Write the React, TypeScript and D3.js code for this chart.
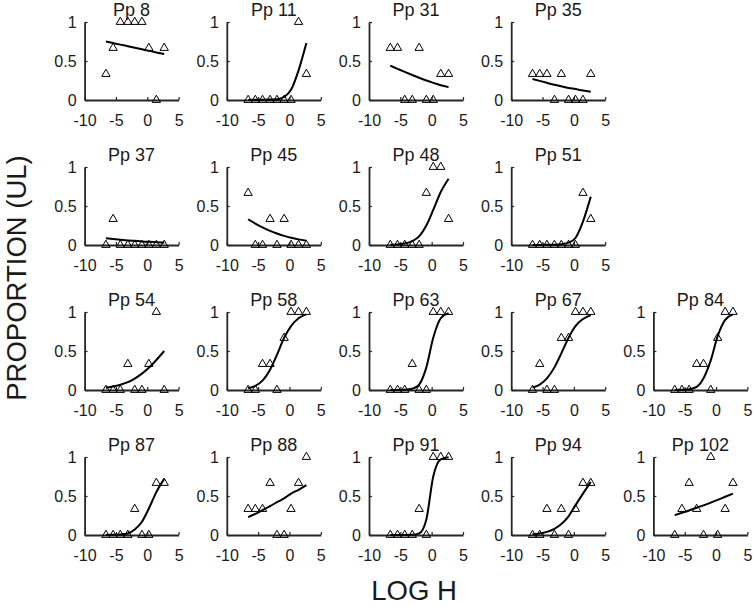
import React, { useEffect, useRef } from 'react';
import * as d3 from 'd3';

// participants, in the order the panels are laid out (row by row)
const panelRows: number[][] = [
  [8, 11, 31, 35],
  [37, 45, 48, 51],
  [54, 58, 63, 67, 84],
  [87, 88, 91, 94, 102],
];

// the nine log H levels every participant was tested at
const logH = [-6.6, -5.45, -4.3, -3.1, -2.0, -0.85, 0.25, 1.45, 2.7];

// observed proportion of UL responses at each level
const propUL: Record<number, number[]> = {
  8: [0.333, 0.667, 1, 1, 1, 1, 0.667, 0, 0.667],
  11: [0, 0, 0, 0, 0, 0, 0, 1, 0.333],
  31: [0.667, 0.667, 0, 0, 0.667, 0, 0, 0.333, 0.333],
  35: [0.333, 0.333, 0.333, 0, 0.333, 0, 0, 0, 0.333],
  37: [0, 0.333, 0, 0, 0, 0, 0, 0, 0],
  45: [0.667, 0, 0, 0.333, 0, 0.333, 0, 0, 0],
  48: [0, 0, 0, 0, 0, 0.667, 1, 1, 0.333],
  51: [0, 0, 0, 0, 0, 0, 0, 0.667, 0.333],
  54: [0, 0, 0, 0.333, 0, 0, 0.333, 1, 0],
  58: [0, 0, 0.333, 0.333, 0, 0.667, 1, 1, 1],
  63: [0, 0, 0, 0.333, 0, 0, 1, 1, 1],
  67: [0, 0.333, 0, 0, 0.667, 0.667, 1, 1, 1],
  84: [0, 0, 0, 0.333, 0.333, 0, 0.667, 1, 1],
  87: [0, 0, 0, 0, 0.333, 0, 0, 0.667, 0.667],
  88: [0.333, 0.333, 0.333, 0.667, 0, 0, 0.333, 0.667, 1],
  91: [0, 0, 0, 0, 0.333, 0, 1, 1, 1],
  94: [0, 0, 0.333, 0, 0.333, 0, 0.333, 0.667, 0.667],
  102: [0, 0.333, 0.667, 0.333, 0, 1, 0, 0.333, 0.667],
};

// fitted curve at the same levels
const fitUL: Record<number, number[]> = {
  8: [0.75, 0.73, 0.71, 0.69, 0.67, 0.65, 0.63, 0.61, 0.59],
  11: [0.001, 0.002, 0.003, 0.005, 0.01, 0.04, 0.13, 0.38, 0.73],
  31: [0.44, 0.4, 0.36, 0.32, 0.285, 0.25, 0.22, 0.19, 0.165],
  35: [0.27, 0.245, 0.22, 0.195, 0.175, 0.155, 0.14, 0.122, 0.107],
  37: [0.086, 0.076, 0.067, 0.059, 0.053, 0.046, 0.041, 0.036, 0.03],
  45: [0.33, 0.275, 0.226, 0.181, 0.147, 0.117, 0.093, 0.072, 0.055],
  48: [0.003, 0.008, 0.02, 0.05, 0.11, 0.25, 0.45, 0.68, 0.85],
  51: [0.0005, 0.001, 0.002, 0.004, 0.01, 0.03, 0.09, 0.3, 0.62],
  54: [0.03, 0.045, 0.068, 0.1, 0.147, 0.21, 0.285, 0.385, 0.5],
  58: [0.023, 0.054, 0.12, 0.26, 0.45, 0.67, 0.82, 0.92, 0.97],
  63: [0, 0.0005, 0.003, 0.016, 0.07, 0.29, 0.67, 0.92, 0.986],
  67: [0.032, 0.07, 0.15, 0.29, 0.47, 0.67, 0.82, 0.91, 0.96],
  84: [0.001, 0.003, 0.01, 0.04, 0.15, 0.38, 0.69, 0.9, 0.97],
  87: [0.001, 0.003, 0.008, 0.02, 0.07, 0.17, 0.34, 0.55, 0.72],
  88: [0.23, 0.27, 0.32, 0.37, 0.42, 0.47, 0.53, 0.58, 0.64],
  91: [0, 0, 0, 0.002, 0.02, 0.2, 0.75, 0.97, 0.997],
  94: [0.01, 0.02, 0.04, 0.08, 0.14, 0.24, 0.38, 0.53, 0.68],
  102: [0.255, 0.285, 0.315, 0.35, 0.38, 0.415, 0.45, 0.49, 0.53],
};

const xTicks = [-10, -5, 0, 5];
const yTicks = [0, 0.5, 1];

const App: React.FC = () => {
  const svgRef = useRef<SVGSVGElement | null>(null);

  useEffect(() => {
    if (!svgRef.current) return;
    document.body.style.margin = '0';

    const svg = d3.select(svgRef.current);
    svg.selectAll('*').remove();

    const width = 753;
    const height = 606;
    const left0 = 84.6, colStep = 142.2, plotW = 94;
    const base0 = 100, rowStep = 145, plotH = 78;
    const ink = '#262626';
    const font = 'Arial, "Liberation Sans", Helvetica, sans-serif';

    svg.attr('width', width).attr('height', height);
    svg.append('rect').attr('width', width).attr('height', height).attr('fill', '#fff');

    const x = d3.scaleLinear().domain([-10, 5]).range([0, plotW]);
    const y = d3.scaleLinear().domain([0, 1]).range([plotH, 0]);

    const fitLine = d3.line<number>()
      .x((_, i) => x(logH[i]))
      .y(d => y(d))
      .curve(d3.curveMonotoneX);

    const tri = d3.symbol().type(d3.symbolTriangle).size(30);

    const styleAxis = (g: any) => {
      g.attr('font-size', 16).attr('font-family', font);
      g.select('.domain').attr('stroke', ink).attr('stroke-width', 1.8);
      g.selectAll('.tick line').attr('stroke', ink).attr('stroke-width', 1.2);
      g.selectAll('.tick text').attr('fill', '#1a1a1a');
    };

    panelRows.forEach((row, r) => {
      row.forEach((pp, c) => {
        const g = svg.append('g')
          .attr('transform', `translate(${left0 + c * colStep},${base0 + r * rowStep - plotH})`);

        g.append('g')
          .attr('transform', `translate(0,${plotH})`)
          .call(d3.axisBottom(x).tickValues(xTicks).tickFormat(d => String(d))
            .tickSizeInner(-3).tickSizeOuter(0).tickPadding(15))
          .call(styleAxis);

        g.append('g')
          .call(d3.axisLeft(y).tickValues(yTicks).tickFormat(d => String(d))
            .tickSizeInner(-3).tickSizeOuter(0).tickPadding(8))
          .call(styleAxis);

        g.append('text')
          .attr('x', plotW / 2)
          .attr('y', -6)
          .attr('text-anchor', 'middle')
          .attr('font-family', font)
          .attr('font-size', 18)
          .attr('fill', '#1a1a1a')
          .text(`Pp ${pp}`);

        g.append('path')
          .attr('d', fitLine(fitUL[pp]))
          .attr('fill', 'none')
          .attr('stroke', '#000')
          .attr('stroke-width', 2);

        g.selectAll('.pt')
          .data(propUL[pp])
          .enter().append('path')
          .attr('class', 'pt')
          .attr('d', tri)
          .attr('transform', (d, i) => `translate(${x(logH[i])},${y(d)})`)
          .attr('fill', 'none')
          .attr('stroke', '#000')
          .attr('stroke-width', 1);
      });
    });

    svg.append('text')
      .attr('x', 414)
      .attr('y', 600)
      .attr('text-anchor', 'middle')
      .attr('font-family', font)
      .attr('font-size', 27.5)
      .attr('fill', '#1a1a1a')
      .text('LOG H');

    svg.append('text')
      .attr('transform', 'translate(25.5,278) rotate(-90)')
      .attr('text-anchor', 'middle')
      .attr('font-family', font)
      .attr('font-size', 27.5)
      .attr('fill', '#1a1a1a')
      .text('PROPORTION (UL)');
  }, []);

  return <svg ref={svgRef} style={{ display: 'block' }}></svg>;
};

export default App;
